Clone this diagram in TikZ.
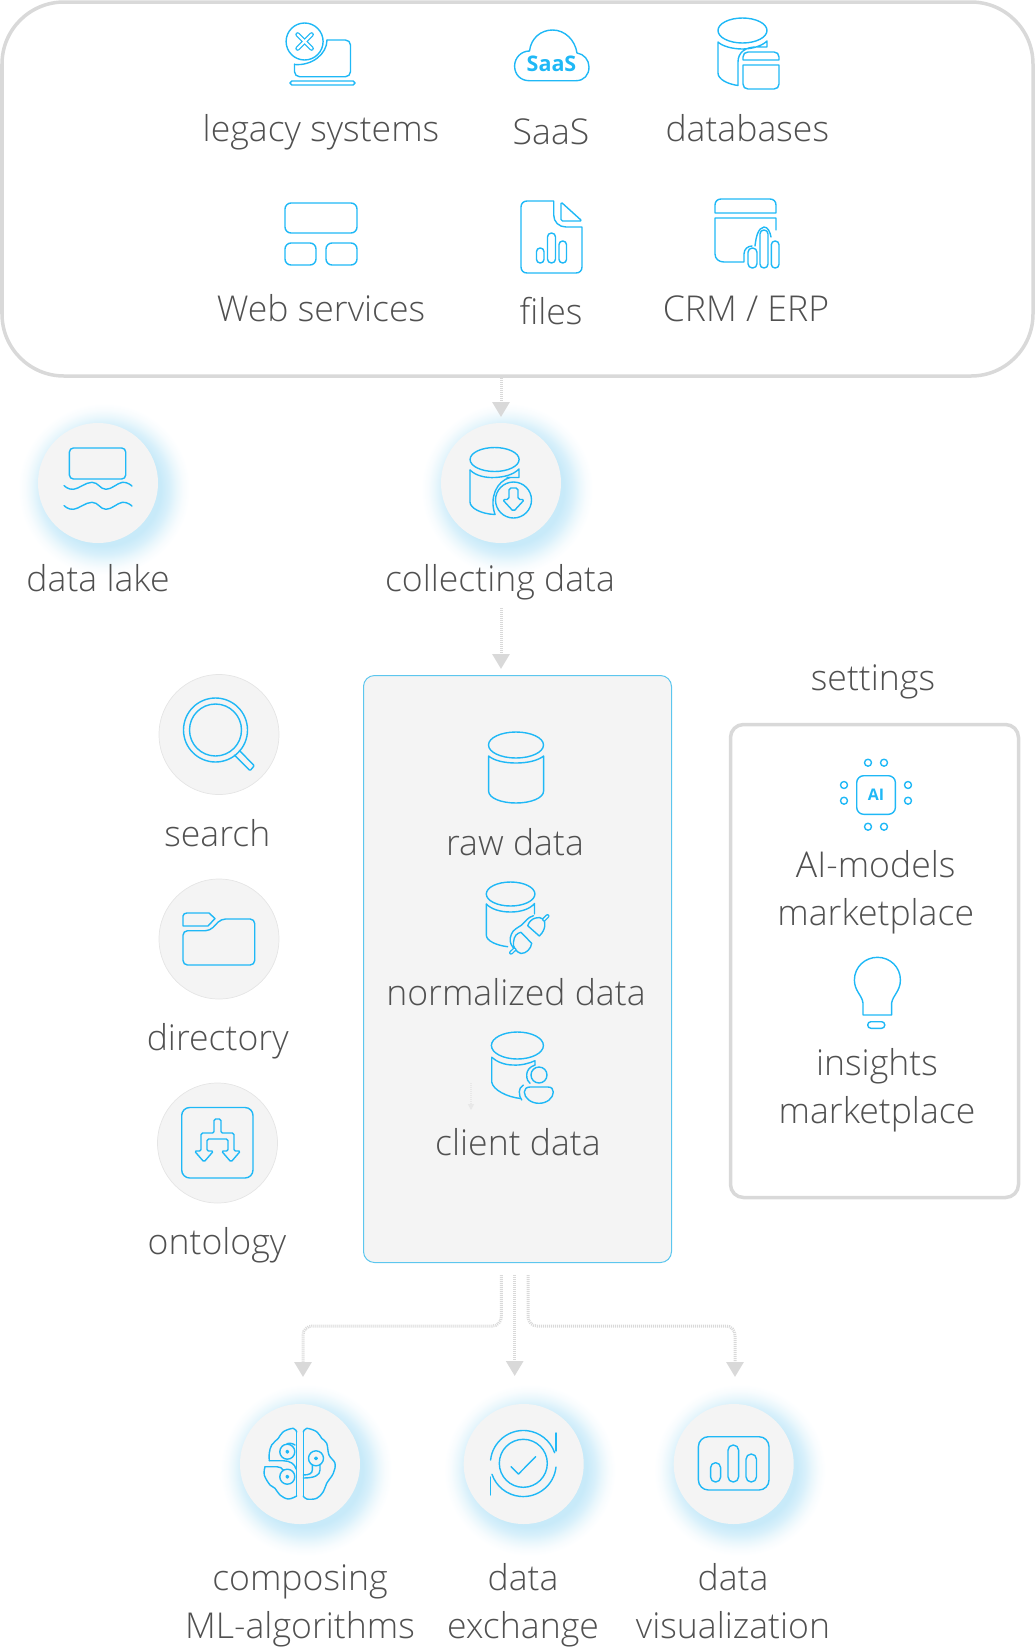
\documentclass[tikz,border=0pt]{standalone}
\usepackage{fontspec}
\setmainfont{Open Sans Light}
\newfontfamily\iconfont{Open Sans}
\usetikzlibrary{arrows.meta,shadings}
\definecolor{ic}{HTML}{1FB8F6}
\definecolor{txt}{HTML}{505050}
\definecolor{frame}{HTML}{D9D9D9}
\definecolor{disc}{HTML}{F4F4F4}
\definecolor{gla}{HTML}{C8EAF9}
\definecolor{glb}{HTML}{D8F0FB}
\definecolor{glc}{HTML}{EAF7FC}
\definecolor{gld}{HTML}{F8FCFE}
\definecolor{boxedge}{HTML}{5CC6EE}
\pgfdeclareradialshading{glowshade}{\pgfpoint{0bp}{0bp}}{color(0bp)=(gla); color(16.5bp)=(gla); color(19bp)=(glb); color(21bp)=(glc); color(23bp)=(gld); color(25bp)=(white); color(50bp)=(white)}
\tikzset{
  ico/.style={draw=ic,line width=1.4pt,line join=round,line cap=round},
  lbl/.style={anchor=base,inner sep=0pt,text=txt,font=\fontsize{35.6}{48}\selectfont,align=center},
  disca/.style={circle,fill=disc,minimum size=120pt,inner sep=0pt},
  discb/.style={disca,draw=black!10,line width=0.7pt},
  conn/.style={draw=frame,line width=3pt,dash pattern=on 1pt off 1pt,rounded corners=9pt,-{Triangle[length=15pt,width=17pt,color=frame]}},
  connsmall/.style={draw=frame!60,line width=1.2pt,dash pattern=on 1pt off 1pt,-{Triangle[length=6pt,width=6pt,color=frame!60]}},
  iconlabel/.style={inner sep=0pt,text=ic,font=\iconfont\bfseries\fontsize{21.5}{21.5}\selectfont}
}
\newcommand{\glowat}[2]{\shade[shading=glowshade] (#1+6,#2+6) circle (86);}
\begin{document}
\begin{tikzpicture}[x=1pt,y=-1pt]
\useasboundingbox (0,0) rectangle (1035,1647);
% glows
\glowat{98}{483}\glowat{501}{483}\glowat{300}{1464}\glowat{523.7}{1464}\glowat{733.7}{1464}
% frames
\node[draw=frame,line width=3.5pt,rounded corners=62pt,minimum width=1031pt,minimum height=374pt,inner sep=0pt] (sources) at (517.5,189) {};
\node[draw=frame,line width=3.5pt,rounded corners=13pt,minimum width=288pt,minimum height=473pt,inner sep=0pt] (settingsbox) at (874.5,961) {};
\node[draw=boxedge,fill=disc,line width=1pt,rounded corners=11pt,minimum width=308pt,minimum height=587pt,inner sep=0pt] (store) at (517.5,969) {};
% discs
\node[disca] (dlake) at (98,483) {};
\node[disca] (collect) at (501,483) {};
\node[discb] (dsearch) at (219,734.5) {};
\node[discb] (ddir) at (219,939) {};
\node[discb] (dont) at (217.5,1143) {};
\node[disca] (dbrain) at (300,1464) {};
\node[disca] (dexch) at (523.7,1464) {};
\node[disca] (dvis) at (733.7,1464) {};
% connectors
\coordinate (a1) at (501,378); \coordinate (a1e) at (501,417);
\coordinate (a2) at (501,608); \coordinate (a2e) at (501,669);
\coordinate (bL) at (501.3,1275); \coordinate (bLm) at (501.3,1326); \coordinate (bLn) at (303,1326); \coordinate (bLe) at (303,1377);
\coordinate (bC) at (514.7,1275); \coordinate (bCe) at (514.7,1376);
\coordinate (bR) at (528,1275); \coordinate (bRm) at (528,1326); \coordinate (bRn) at (735,1326); \coordinate (bRe) at (735,1377);
\coordinate (s1) at (471,1083); \coordinate (s1e) at (471,1110);
\draw[conn] (a1) -- (a1e);
\draw[conn] (a2) -- (a2e);
\draw[conn] (bL) -- (bLm) -- (bLn) -- (bLe);
\draw[conn] (bC) -- (bCe);
\draw[conn] (bR) -- (bRm) -- (bRn) -- (bRe);
\draw[connsmall] (s1) -- (s1e);
% labels
\node[lbl] (t1) at (321,141.5) {legacy systems};
\node[lbl] (t2) at (551,144) {SaaS};
\node[lbl] (t3) at (747.3,141) {databases};
\node[lbl] (t4) at (321,321) {Web services};
\node[lbl] (t5) at (551,324) {files};
\node[lbl] (t6) at (746,321) {CRM / ERP};
\node[lbl] (t7) at (98,591) {data lake};
\node[lbl] (t8) at (500,591) {collecting data};
\node[lbl] (t9) at (217.3,846) {search};
\node[lbl] (t10) at (217.7,1050.6) {directory};
\node[lbl] (t11) at (217,1254.6) {ontology};
\node[lbl] (t12) at (515,855) {raw data};
\node[lbl] (t13) at (516,1005) {normalized data};
\node[lbl] (t14) at (518,1155) {client data};
\node[lbl] (t15) at (873,690) {settings};
\node[lbl] (t16) at (875.7,925.7) {AI-models\\marketplace};
\node[lbl] (t17) at (877,1123.7) {insights\\marketplace};
\node[lbl] (t18) at (300,1638) {composing\\ML-algorithms};
\node[lbl] (t19) at (523,1638) {data\\exchange};
\node[lbl] (t20) at (733,1638) {data\\visualization};
% --- legacy systems icon
\draw[ico] (304.6,41.5) circle (18.5);
\draw[ic,line width=4.6pt,line cap=round] (297.6,34.5) -- (311.6,48.5) (311.6,34.5) -- (297.6,48.5);
\draw[white,line width=2.2pt,line cap=round] (297.6,34.5) -- (311.6,48.5) (311.6,34.5) -- (297.6,48.5);
\draw[ico,rounded corners=5pt] (327,40) -- (350.5,40) -- (350.5,76.7) -- (294.5,76.7) -- (294.5,64);
\draw[ico] (294.5,64.5) .. controls (312,66) and (327,54) .. (327,40);
\draw[ico,rounded corners=1.9pt] (290,81) rectangle (355,85);
% --- SaaS icon
\draw[ico] (529.3,80.7) .. controls (520,80.7) and (514.6,74) .. (514.6,66) .. controls (514.6,58) and (521,51) .. (529.5,51) .. controls (531,38) and (541,30) .. (552.5,30) .. controls (565,30) and (575,40) .. (577,53) .. controls (584,54) and (589,60) .. (589,67) .. controls (589,75) and (584,80.7) .. (576,80.7) -- cycle;
\node[iconlabel] (saasmark) at (551.5,63.5) {SaaS};
% --- databases icon
\draw[ico] (742.5,30.5) ellipse (24.5 and 12.5);
\draw[ico] (718,42) -- (718,73) .. controls (718,79) and (727,84) .. (738,85.5) -- (738,62) .. controls (738,52) and (746,47) .. (756,47) -- (767,47) -- (767,41) .. controls (762,46) and (752,49) .. (742.5,49) .. controls (732,49) and (722,46) .. (718,42);
\draw[ico] (743,60) -- (743,57) .. controls (743,54) and (745,52) .. (748,52) -- (774,52) .. controls (777,52) and (779,54) .. (779,57) -- (779,60) -- cycle;
\draw[ico] (743,65) -- (779,65) -- (779,84) .. controls (779,87) and (777,89) .. (774,89) -- (748,89) .. controls (745,89) and (743,87) .. (743,84) -- cycle;
% --- web services icon
\draw[ico,rounded corners=6pt] (285,203) rectangle (357,233);
\draw[ico,rounded corners=6pt] (285,243) rectangle (316,265);
\draw[ico,rounded corners=6pt] (326,243) rectangle (357,265);
% --- files icon
\draw[ico] (553.7,201) -- (527,201) .. controls (523.5,201) and (521,203.5) .. (521,207) -- (521,267) .. controls (521,270.5) and (523.5,273) .. (527,273) -- (576,273) .. controls (579.5,273) and (582,270.5) .. (582,267) -- (582,227) -- (566,227) .. controls (559,227) and (553.7,222) .. (553.7,215) -- cycle;
\draw[ico,rounded corners=1.5pt] (561,202) -- (582,221) -- (561,221) -- cycle;
\draw[ico,rounded corners=3.6pt] (536.5,248) rectangle (544,263);
\draw[ico,rounded corners=3.9pt] (547.5,233) rectangle (555.5,263);
\draw[ico,rounded corners=3.6pt] (559,241) rectangle (566.5,263);
% --- CRM / ERP icon
\draw[ico] (715,213) -- (715,205) .. controls (715,201.5) and (717.5,199) .. (721,199) -- (770,199) .. controls (773.5,199) and (776,201.5) .. (776,205) -- (776,213) -- cycle;
\draw[ico] (776,230) -- (776,218) -- (715,218) -- (715,254) .. controls (715,259) and (719,262) .. (724,262) -- (744,262) -- (744,254) .. controls (744,249) and (748,246) .. (752,246);
\draw[ico,rounded corners=4.3pt] (748,248) rectangle (757,268);
\draw[ico,rounded corners=3.9pt] (760,230) rectangle (768,268);
\draw[ico,rounded corners=3.7pt] (771.3,241) rectangle (779,268);
\draw[ico] (755,246) .. controls (756,237) and (758,228) .. (764,227) .. controls (768,227) and (770,232) .. (771,237);
% --- data lake icon
\draw[ico,rounded corners=4pt] (69.4,448) rectangle (125.7,479);
\draw[ico] plot[smooth,tension=0.7] coordinates {(64,485.5) (73.5,489.3) (92,482.3) (106,489.3) (122.4,482.3) (132,486)};
\draw[ico] plot[smooth,tension=0.7] coordinates {(64,505.5) (73.5,509.3) (92,502.3) (106,509.3) (122.4,502.3) (132,506)};
% --- collecting data icon
\draw[ico] (494.6,459.5) ellipse (24.5 and 12);
\draw[ico] (470,470) -- (470,502) .. controls (470,508) and (481,514) .. (495,514.5);
\draw[ico] (470,470) .. controls (476,476) and (486,478) .. (495,477.5) .. controls (504,477) and (513,475) .. (519,469) -- (519,477.5) -- (507,477.5);
\draw[ico] (513.5,500) circle (18);
\draw[ico] (495,514.5) .. controls (489,497) and (497,481) .. (510,477.5);
\draw[ico,rounded corners=1.8pt] (509,488) -- (518,488) -- (518,499.5) -- (524.5,499.5) -- (513.5,511.5) -- (502.5,499.5) -- (509,499.5) -- cycle;
% --- search icon
\draw[ico] (215.5,730) circle (32);
\draw[ico] (215.5,730) circle (26);
\draw[ico,rounded corners=1pt] (239.3,750.4) -- (254.3,765.7) -- (250,770.7) -- (234.3,755);
% --- directory icon
\draw[ico] (183,926) -- (183,916) .. controls (183,914) and (185,913) .. (187,913) -- (209,913) -- (215,918.5) -- (208,926) -- cycle;
\draw[ico,rounded corners=4.5pt] (183,930.7) -- (210,930.7) -- (221,919) -- (254.7,919) -- (254.7,965) -- (183,965) -- cycle;
% --- ontology icon
\draw[ico,rounded corners=8pt] (181.7,1107.5) rectangle (253,1178);
\draw[ico,rounded corners=1.5pt] (214,1133) -- (214,1119) -- (221,1119) -- (221,1133) -- (234,1133) -- (234,1151) -- (240.5,1151) -- (231,1162) -- (221.5,1151) -- (228,1151) -- (228,1139) -- (207,1139) -- (207,1151) -- (213.5,1151) -- (204,1162) -- (194.5,1151) -- (201,1151) -- (201,1133) -- cycle;
% --- raw data icon
\draw[ico] (516,745) ellipse (27.5 and 13);
\draw[ico] (488.6,756) -- (488.6,791) .. controls (488.6,798) and (501,803) .. (516,803) .. controls (531,803) and (543.6,798) .. (543.6,791) -- (543.6,756) .. controls (538,760.5) and (528,763) .. (516,763) .. controls (504,763) and (494,760.5) .. (488.6,756);
% --- normalized data icon
\draw[ico] (510.6,894) ellipse (24.3 and 12);
\draw[ico] (486.3,904) -- (486.3,935) .. controls (486.3,941) and (497,945.5) .. (507.7,946.7);
\draw[ico] (486.3,904) .. controls (491,909) and (500,912) .. (510.6,912) .. controls (521,912) and (530,909) .. (534.5,903.5) -- (534.5,914);
\draw[ico] (533.5,915.7) .. controls (528,917) and (525,922) .. (521.7,925) .. controls (517,928) and (513,930) .. (511.5,934) .. controls (509,939) and (510,944) .. (513.3,947.7);
\draw[ico] (527.7,925.7) -- (539.3,936) .. controls (546,930) and (546,921) .. (543,919) .. controls (541,917.5) and (538,917) .. (535.5,918) .. controls (532,919) and (529,921.5) .. (527.7,925.7) -- cycle;
\draw[ico] (521,932.3) -- (531.7,943.3) .. controls (531,949) and (526,953.5) .. (521,953.5) .. controls (516,952) and (512.5,947) .. (513.5,942) .. controls (514,936) and (517,933) .. (521,932.3) -- cycle;
\draw[ic,line width=4pt,line cap=round] (544,919.5) -- (547.5,916);
\draw[disc,line width=1.4pt,line cap=round] (544,919.5) -- (547.5,916);
\draw[ic,line width=4pt,line cap=round] (514.5,949.5) -- (511,952.7);
\draw[disc,line width=1.4pt,line cap=round] (514.5,949.5) -- (511,952.7);
% --- client data icon
\draw[ico] (517.4,1045.5) ellipse (26 and 13.5);
\draw[ico] (491.7,1057.3) -- (491.7,1082) .. controls (493,1090) and (507,1097) .. (520.5,1098.5);
\draw[ico] (491.7,1057.3) .. controls (497,1062) and (505,1065) .. (513,1065) .. controls (521,1065.5) and (529,1063.5) .. (535,1060.7) -- (535,1065);
\draw[ico] (539,1075) circle (8);
\draw[ico] (535,1065) .. controls (529,1067) and (526.7,1071) .. (526.7,1075) .. controls (526.7,1079) and (528,1082) .. (530,1083.3);
\draw[ico] (523.3,1085) .. controls (520.5,1087) and (519.3,1089) .. (519.3,1091.7) .. controls (519.3,1095) and (520,1098) .. (521.7,1100);
\draw[ico] (530,1087) -- (548,1087) .. controls (551.5,1087) and (553.3,1089) .. (553.3,1092) .. controls (553.3,1098) and (547,1103.3) .. (539,1103.3) .. controls (531,1103.3) and (524.3,1098) .. (524.3,1092) .. controls (524.3,1089) and (526.5,1087) .. (530,1087) -- cycle;
% --- AI-models icon
\draw[ico,rounded corners=7pt] (856.7,775.7) rectangle (895.4,814.3);
\node[iconlabel,font=\iconfont\bfseries\fontsize{16}{16}\selectfont] (aimark) at (876,795) {AI};
\foreach \p in {(868,762.7),(884,762.7),(868,826.7),(884,826.7),(844,785),(844,800.7),(908,785),(908,800.7)} {\draw[ico] \p circle (3.5);}
% --- insights icon
\draw[ico,line join=round] (863,1003) -- (863,1015) -- (891.6,1015) -- (891.6,1003) .. controls (893,995) and (900.4,991) .. (900.4,980) .. controls (900.4,967) and (890,957.3) .. (877.5,957.3) .. controls (865,957.3) and (854.4,967) .. (854.4,980) .. controls (854.4,991) and (862,995) .. (863,1003);
\draw[ico,rounded corners=3.2pt] (867.7,1021.7) rectangle (884.8,1028.3);
% --- brain icon
\draw[ico] plot[smooth,tension=0.6] coordinates {(269.3,1460.7) (269.3,1453) (271.7,1445) (278.3,1438.3) (283.3,1431.7) (293.3,1428.3) (296.7,1432)};
\draw[ico] (296.7,1432) -- (296.7,1496);
\draw[ico] plot[smooth,tension=0.6] coordinates {(296.7,1496) (288.3,1499) (280,1495) (275,1488.3) (270,1485) (264.3,1475) (265,1466.7)};
\draw[ico] (265,1466.7) -- (276.7,1466.7) .. controls (280,1466.7) and (282,1468) .. (283.3,1470);
\draw[ico] (269.3,1460.7) -- (283,1460.7) .. controls (290,1460.7) and (295,1464) .. (296,1469);
\draw[ico] (287.3,1451.7) circle (7.5);
\draw[ico] (287.3,1476.7) circle (7.5);
\draw[ico] (287.3,1451.7) circle (1.3);
\draw[ico] (287.3,1476.7) circle (1.3);
\draw[ico] (295,1445) .. controls (292,1443) and (289,1443) .. (287,1443.5);
\draw[ico] plot[smooth,tension=0.6] coordinates {(303.3,1432) (306.7,1428.3) (316.7,1431.7) (321.7,1438.3) (326.7,1443.3) (329,1455) (335,1463.3) (333.3,1473.3) (326.7,1483.3) (323.3,1491.7) (316.7,1498.3) (306.7,1499) (303.3,1496)};
\draw[ico] (303.3,1432) -- (303.3,1496);
\draw[ico] (316,1458.3) circle (7.5);
\draw[ico] (316,1458.3) circle (1.3);
\draw[ico] (312.3,1465) -- (312.3,1470) .. controls (312.3,1473) and (310,1475) .. (303.3,1475);
\draw[ico] (320,1465) -- (320,1470) .. controls (320,1475) and (315,1478) .. (303.3,1478);
% --- data exchange icon
\draw[ico] (523.3,1463.3) circle (24);
\draw[ico] (490.6,1460) arc[start angle=186,end angle=341,x radius=33,y radius=33] ;
\draw[ico] (556,1433) -- (556,1451);
\draw[ico] (556,1467) arc[start angle=6,end angle=161,x radius=33,y radius=33];
\draw[ico] (490.6,1477) -- (490.6,1495);
\draw[ico] (511,1466.7) -- (518.5,1474) -- (535.7,1456.7);
% --- data visualization icon
\draw[ico,rounded corners=10pt] (698.4,1436.7) rectangle (769,1490);
\draw[ico,rounded corners=4.9pt] (710.6,1462.7) rectangle (720.6,1482);
\draw[ico,rounded corners=5.2pt] (728,1445) rectangle (738.6,1482);
\draw[ico,rounded corners=5.2pt] (746,1454) rectangle (756.5,1482);
\end{tikzpicture}
\end{document}
